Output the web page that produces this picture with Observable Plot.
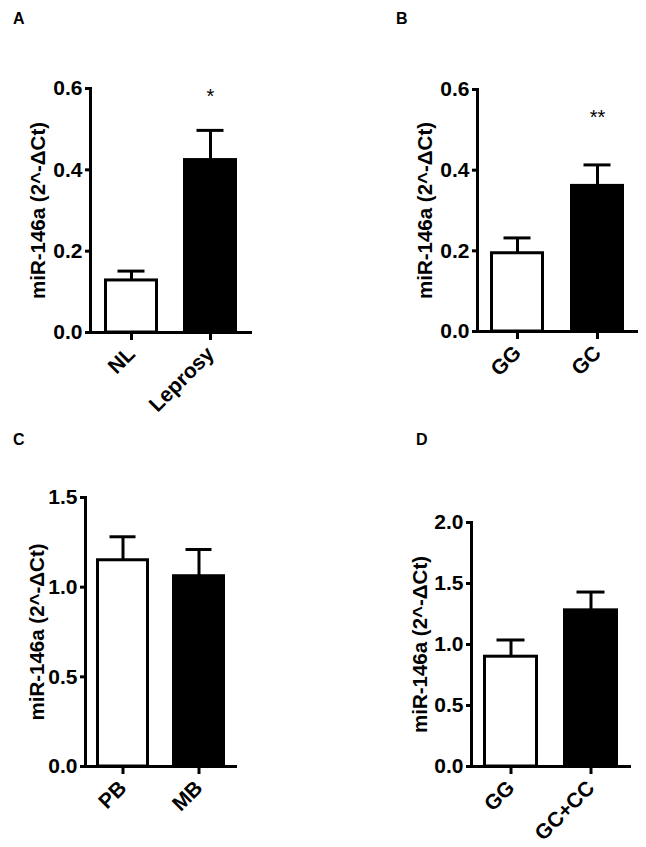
<!DOCTYPE html>
<html>
<head>
<meta charset="utf-8">
<script src="https://cdn.jsdelivr.net/npm/d3@7"></script>
<script src="https://cdn.jsdelivr.net/npm/@observablehq/plot@0.6"></script>
<style>
  html, body { margin: 0; padding: 0; background: #fff; }
  #page { position: relative; width: 646px; height: 847px; background: #fff; overflow: hidden;
          font-family: "Liberation Sans", Arial, sans-serif; }
  .panel { position: absolute; }
  .tag { position: absolute; font-weight: bold; font-size: 16px; line-height: 1; color: #000; }
</style>
</head>
<body>
<div id="page"></div>
<script>
// ---- data ----
const yLabel = "miR-146a (2^-ΔCt)";

const groupsA = ["NL", "Leprosy"];
const meansA  = [0.128, 0.424];
const errsA   = [0.023, 0.073];
const ticksA  = [0, 0.2, 0.4, 0.6];
const starsA  = [{group: "Leprosy", y: 0.58, label: "*"}];

const groupsB = ["GG", "GC"];
const meansB  = [0.194, 0.361];
const errsB   = [0.038, 0.052];
const ticksB  = [0, 0.2, 0.4, 0.6];
const starsB  = [{group: "GC", y: 0.53, label: "**"}];

const groupsC = ["PB", "MB"];
const meansC  = [1.150, 1.061];
const errsC   = [0.131, 0.149];
const ticksC  = [0, 0.5, 1.0, 1.5];

const groupsD = ["GG", "GC+CC"];
const meansD  = [0.900, 1.280];
const errsD   = [0.137, 0.150];
const ticksD  = [0, 0.5, 1.0, 1.5, 2.0];

const barFills = ["white", "black"];
const panelTags = ["A", "B", "C", "D"];

// ---- build ----
const FONT = '"Liberation Sans", Arial, Helvetica, sans-serif';

function table(groups, means, errs) {
  return groups.map((g, i) => ({group: g, mean: means[i], top: means[i] + errs[i], fill: barFills[i]}));
}

function panel(cfg) {
  const data = table(cfg.groups, cfg.means, cfg.errs);
  return Plot.plot({
    width: cfg.w, height: cfg.h,
    marginLeft: cfg.ml, marginRight: cfg.mr, marginTop: cfg.mt, marginBottom: cfg.mb,
    style: {fontFamily: FONT, fontSize: "21px", fontWeight: "bold", color: "#000", background: "transparent", overflow: "visible"},
    x: {type: "band", domain: cfg.groups, paddingInner: cfg.pi, paddingOuter: cfg.po, axis: null},
    y: {domain: cfg.domain, axis: null},
    color: {type: "identity"},
    marks: [
      Plot.barY(data, {x: "group", y: "mean", fill: "fill", stroke: "#000", strokeWidth: 3, insetLeft: 1.5, insetRight: 1.5}),
      Plot.ruleX(data, {x: "group", y1: "mean", y2: "top", stroke: "#000", strokeWidth: 3}),
      Plot.tickY(data, {x: "group", y: "top", stroke: "#000", strokeWidth: 3, insetLeft: 13.5, insetRight: 13.5}),
      Plot.ruleY([0], {stroke: "#000", strokeWidth: 3}),
      Plot.frame({anchor: "left", stroke: "#000", strokeWidth: 3}),
      Plot.axisY({ticks: cfg.ticks, tickFormat: d3.format(".1f"), tickSize: 5, tickPadding: 3, strokeWidth: 3, fontSize: 21, label: null}),
      Plot.axisX({tickSize: 8, tickRotate: -45, tickPadding: 10, strokeWidth: 3, fontSize: 21, label: null}),
      Plot.text([yLabel], {frameAnchor: "left", textAnchor: "middle", rotate: -90, dx: -cfg.lo, fontSize: 20.5, fontWeight: "bold"}),
      Plot.text(cfg.stars || [], {x: "group", y: "y", text: "label", fontSize: 20, fontWeight: "normal"})
    ]
  });
}

const page = document.getElementById("page");
const panels = [
  {left: 0,   top: 0,   w: 323, h: 423, ml: 90,  mr: 71, mt: 88, mb: 91, pi: 0.3125, po: 0.17,
   groups: groupsA, means: meansA, errs: errsA, ticks: ticksA, domain: [0, 0.6], stars: starsA, lo: 52},
  {left: 323, top: 0,   w: 323, h: 423, ml: 154, mr: 8,  mt: 89, mb: 92, pi: 0.32, po: 0.154,
   groups: groupsB, means: meansB, errs: errsB, ticks: ticksB, domain: [0, 0.6], stars: starsB, lo: 52},
  {left: 0,   top: 423, w: 323, h: 424, ml: 85,  mr: 86, mt: 74, mb: 81, pi: 0.30, po: 0.15,
   groups: groupsC, means: meansC, errs: errsC, ticks: ticksC, domain: [0, 1.5], lo: 48},
  {left: 323, top: 423, w: 323, h: 424, ml: 148, mr: 15, mt: 99, mb: 81, pi: 0.31, po: 0.15,
   groups: groupsD, means: meansD, errs: errsD, ticks: ticksD, domain: [0, 2.0], lo: 51}
];
const tagPos = [[13, 11], [396, 11], [13, 432], [416, 432]];

panels.forEach((cfg, i) => {
  const div = document.createElement("div");
  div.className = "panel";
  div.style.left = cfg.left + "px";
  div.style.top = cfg.top + "px";
  div.appendChild(panel(cfg));
  page.appendChild(div);
  const t = document.createElement("div");
  t.className = "tag";
  t.style.left = tagPos[i][0] + "px";
  t.style.top = tagPos[i][1] + "px";
  t.textContent = panelTags[i];
  page.appendChild(t);
});
</script>
</body>
</html>
